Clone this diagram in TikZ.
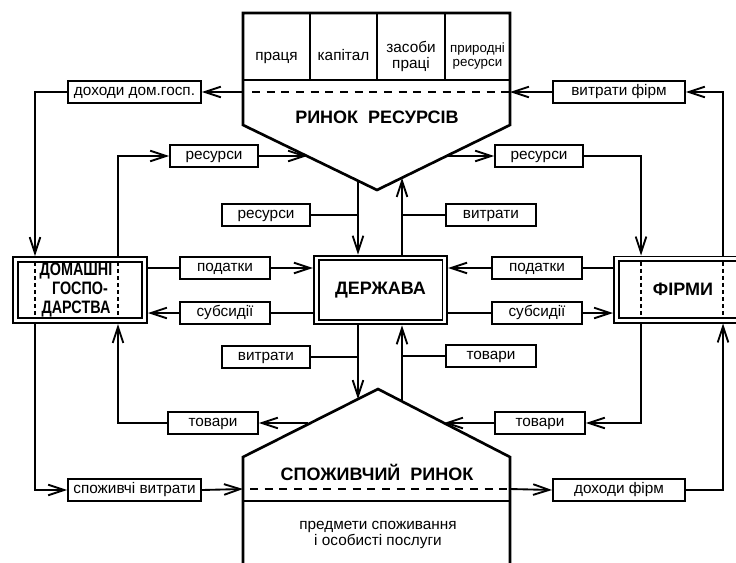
\documentclass[tikz,border=0pt]{standalone}
\usepackage{fontspec}
\setmainfont{Liberation Sans}
\newfontfamily\condfont[FakeStretch=0.8]{Liberation Sans}
\usetikzlibrary{arrows.meta,calc}

\tikzset{
  lab/.style={rectangle,draw,line width=1.4pt,minimum height=16.5pt,inner sep=1pt,
    text height=0.72em,text depth=0.22em,font=\fontsize{11.5}{13}\selectfont},
  big/.style={rectangle,draw,line width=1.4pt,double,double distance=2.2pt,outer sep=2.5pt,
    inner sep=1pt,font=\fontsize{13.5}{15}\selectfont\bfseries},
  cell/.style={anchor=base,font=\fontsize{11.5}{12}\selectfont},
  arr/.style={-{Straight Barb[length=12pt,width=8pt]}},
  mkt/.style={line width=2pt,line join=miter},
  dsh/.style={line width=2pt,dash pattern=on 6pt off 5pt},
  vdsh/.style={line width=1.8pt,dash pattern=on 3pt off 2.3pt},
}

\begin{document}
\begin{tikzpicture}[x=0.75pt,y=-0.75pt,line width=1.4pt]
\useasboundingbox (0,0) rectangle (736,562);

% ринок ресурсів
\draw[mkt] (243,13) -- (510,13) -- (510,125) -- (377,190) -- (243,125) -- cycle;
\draw[line width=1.6pt] (243,80) -- (510,80);
\draw[line width=1.6pt] (310,13) -- (310,80); \draw[line width=1.6pt] (377,13) -- (377,80);
\draw[line width=1.6pt] (445,13) -- (445,80);
\draw[dsh] (252,92) -- (510,92);
\node at (276.5,60.5) [cell] (c1) {праця};
\node at (343.5,60.5) [cell] (c2) {капітал};
\node at (411,56) [font=\fontsize{11.5}{12}\selectfont,align=center] (c3) {засоби\\праці};
\node at (477.5,56) [font=\fontsize{10}{10.5}\selectfont,align=center] (c4) {природні\\ресурси};
\node at (377,117) [font=\fontsize{13.5}{15}\selectfont\bfseries] (rrt) {РИНОК\ \ РЕСУРСІВ};

% споживчий ринок
\draw[mkt] (243,575) -- (243,457) -- (378,389) -- (510,457) -- (510,575);
\draw[mkt] (243,501) -- (510,501);
\draw[dsh] (250,489) -- (510,489);
\node at (377,472) [font=\fontsize{13.5}{15}\selectfont\bfseries] (cmt) {СПОЖИВЧИЙ\ \ РИНОК};
\node at (378,535) [font=\fontsize{11.5}{12}\selectfont,align=center] (cmg) {предмети споживання\\і особисті послуги};

% точки на ринках
\coordinate (rrW) at (243,92); \coordinate (rrE) at (510,92);
\coordinate (rrA) at (307,156); \coordinate (rrB) at (447,156);
\coordinate (rrC) at (358,181); \coordinate (rrD) at (402,178);
\coordinate (cmA) at (308,423); \coordinate (cmB) at (444,423);
\coordinate (cmC) at (358,399); \coordinate (cmD) at (402,401);
\coordinate (cmW) at (243,489); \coordinate (cmE) at (510,489);
\coordinate (hhA) at (35,0); \coordinate (hhB) at (118,0);
\coordinate (fiA) at (641,0); \coordinate (fiB) at (723,0);

% сектори
\node at (80,290) [big,minimum width=97pt,minimum height=46pt,align=center,
  font=\condfont\bfseries\fontsize{13.5}{13.9}\selectfont] (hh)
  {ДОМАШНІ\hspace*{6pt}\\ГОСПО-\hspace*{6pt}\\ДАРСТВА\hspace*{6pt}};
\node at (380.5,290) [big,minimum width=96.5pt,minimum height=48pt] (dz) {ДЕРЖАВА};
\node at (683,289.5) [big,minimum width=100pt,minimum height=46pt] (fi) {ФІРМИ\hspace{4pt}};
\draw[vdsh] ($(hh.north -| hhA)+(0,6)$) -- ($(hh.south -| hhA)+(0,-6)$);
\draw[vdsh] ($(hh.north -| hhB)+(0,6)$) -- ($(hh.south -| hhB)+(0,-6)$);
\draw[vdsh] ($(fi.north -| fiA)+(0,6)$) -- ($(fi.south -| fiA)+(0,-6)$);
\draw[vdsh] ($(fi.north -| fiB)+(0,6)$) -- ($(fi.south -| fiB)+(0,-6)$);

% потоки
\node at (134.5,92) [lab,minimum width=99.75pt] (dh) {доходи дом.госп.};
\node at (619,92) [lab,minimum width=99pt] (vf) {витрати фірм};
\node at (214,156) [lab,minimum width=66pt] (resL) {ресурси};
\node at (539,156) [lab,minimum width=66pt] (resR) {ресурси};
\node at (266,215) [lab,minimum width=66pt] (resM) {ресурси};
\node at (491,215) [lab,minimum width=67.5pt] (vtM) {витрати};
\node at (225,268) [lab,minimum width=67.5pt] (podL) {податки};
\node at (225,313) [lab,minimum width=67.5pt] (subL) {субсидії};
\node at (537,268) [lab,minimum width=67.5pt] (podR) {податки};
\node at (537,313) [lab,minimum width=67.5pt] (subR) {субсидії};
\node at (266,357) [lab,minimum width=66pt] (vtB) {витрати};
\node at (491,356) [lab,minimum width=67.5pt] (tvB) {товари};
\node at (213,423) [lab,minimum width=67.5pt] (tvL) {товари};
\node at (540,423) [lab,minimum width=67.5pt] (tvR) {товари};
\node at (134.5,490) [lab,minimum width=99.75pt] (sv) {споживчі витрати};
\node at (619,490) [lab,minimum width=99pt] (df) {доходи фірм};

\draw[arr] (rrW) -- (dh.east); \draw[arr] (dh.west) -| (hh.north -| hhA);
\draw[arr] (hh.north -| hhB) |- (resL.west); \draw[arr] (resL.east) -- (rrA);
\draw[arr] (rrB) -- (resR.west); \draw[arr] (resR.east) -| (fi.north -| fiA);
\draw[arr] (fi.north -| fiB) |- (vf.east); \draw[arr] (vf.west) -- (rrE);

\draw[arr] (rrC) -- (dz.north -| rrC); \draw (resM.east) -- (resM.east -| rrC);
\draw[arr] (dz.north -| rrD) -- (rrD); \draw (vtM.west) -- (vtM.west -| rrD);

\draw (hh.east |- podL.west) -- (podL.west); \draw[arr] (podL.east) -- (dz.west |- podL.east);
\draw (dz.west |- subL.east) -- (subL.east); \draw[arr] (subL.west) -- (hh.east |- subL.west);
\draw (fi.west |- podR.east) -- (podR.east); \draw[arr] (podR.west) -- (dz.east |- podR.west);
\draw (dz.east |- subR.west) -- (subR.west); \draw[arr] (subR.east) -- (fi.west |- subR.east);

\draw[arr] (dz.south -| cmC) -- (cmC); \draw (vtB.east) -- (vtB.east -| cmC);
\draw[arr] (cmD) -- (dz.south -| cmD); \draw (tvB.west) -- (tvB.west -| cmD);

\draw[arr] (cmA) -- (tvL.east); \draw[arr] (tvL.west) -| (hh.south -| hhB);
\draw[arr] (fi.south -| fiA) |- (tvR.east); \draw[arr] (tvR.west) -- (cmB);
\draw[arr] (hh.south -| hhA) |- (sv.west); \draw[arr] (sv.east) -- (cmW);
\draw[arr] (cmE) -- (df.west); \draw[arr] (df.east) -| (fi.south -| fiB);
\end{tikzpicture}
\end{document}
